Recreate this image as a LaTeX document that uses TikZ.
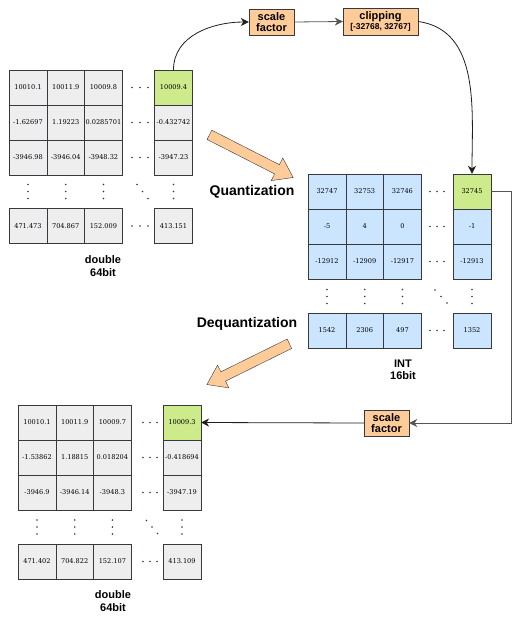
\documentclass[tikz,border=0pt]{standalone}
\usepackage{fontspec}
\setmainfont{DejaVu Serif}
\setsansfont{Liberation Sans}
\usetikzlibrary{positioning}
\usetikzlibrary{arrows.meta}
\usetikzlibrary{shapes.arrows}
\pgfdeclarelayer{nodelayer}
\pgfdeclarelayer{edgelayer}
\pgfsetlayers{nodelayer,edgelayer,main}
\definecolor{cellgrey}{HTML}{EEEEEE}
\definecolor{cellblue}{HTML}{CCE5FF}
\definecolor{cellgreen}{HTML}{CDEB8B}
\definecolor{boxorange}{HTML}{FFCC99}
\definecolor{cellline}{HTML}{36393D}
\definecolor{flowline}{HTML}{1F1F1F}
\definecolor{loopline}{HTML}{555555}
\tikzset{
    none/.style = {inner sep=0pt},
    cell/.style = {draw=cellline, fill=cellgrey, minimum width=37.7pt, minimum height=35pt,
        inner sep=0pt, font=\fontsize{6.6}{8}\selectfont},
    intcell/.style = {cell, fill=cellblue},
    hotcell/.style = {cell, fill=cellgreen},
    opbox/.style = {draw=cellline, fill=boxorange, inner sep=0pt, align=center,
        font=\sffamily\bfseries\fontsize{11}{11.5}\selectfont},
    typelabel/.style = {none, align=center, font=\sffamily\bfseries\fontsize{11}{12.5}\selectfont},
    steplabel/.style = {none, font=\sffamily\bfseries\fontsize{14}{16}\selectfont},
    bigarrow/.style = {single arrow, draw=cellline, fill=boxorange, inner sep=5pt,
        single arrow head extend=7.5pt, single arrow tip angle=70, single arrow head indent=0pt},
    flow/.style = {draw=flowline, line width=0.8pt, -{Stealth[length=8pt,width=8pt,inset=2.5pt]}}
}

\begin{document}
\begin{tikzpicture}[x=1pt, y=-1pt]
    \useasboundingbox (0,0) rectangle (516,618);

    \begin{pgfonlayer}{nodelayer}
        % input matrix, double
        \foreach \r/\y/\s/\va/\vb/\vc/\vd in {
            1/87.5/hotcell/10010.1/10011.9/10009.8/10009.4,
            2/122.5/cell/-1.62697/1.19223/0.0285701/-0.432742,
            3/157.5/cell/-3946.98/-3946.04/-3948.32/-3947.23,
            4/226/cell/471.473/704.867/152.009/413.151} {
            \node [cell] (a\r1) at (28,\y) {\va};
            \node [cell] (a\r2) at (65.7,\y) {\vb};
            \node [cell] (a\r3) at (103.4,\y) {\vc};
            \node [\s] (a\r4) at (173.5,\y) {\vd};
            \foreach \dx in {-8,0,8} \fill [cellline] (140+\dx,\y) circle (0.9pt);
        }
        \foreach \x in {28,65.7,103.4,173.5}
            \foreach \dy in {-7,0,7} \fill [cellline] (\x,191.5+\dy) circle (0.9pt);
        \foreach \d in {-1,0,1} \fill [cellline] (142.5+5.5*\d,191.5+7*\d) circle (0.9pt);
        \node [typelabel] (la) at (103,266) {double\\64bit};

        % quantized matrix, int
        \foreach \r/\y/\s/\va/\vb/\vc/\vd in {
            1/191.5/hotcell/32747/32753/32746/32745,
            2/226.5/intcell/-5/4/0/-1,
            3/261.5/intcell/-12912/-12909/-12917/-12913,
            4/330.5/intcell/1542/2306/497/1352} {
            \node [intcell] (b\r1) at (327,\y) {\va};
            \node [intcell] (b\r2) at (364.7,\y) {\vb};
            \node [intcell] (b\r3) at (402.4,\y) {\vc};
            \node [\s] (b\r4) at (472,\y) {\vd};
            \foreach \dx in {-7,0,7} \fill [cellline] (437+\dx,\y) circle (0.9pt);
        }
        \foreach \x in {327,364.7,402.4,472}
            \foreach \dy in {-7,0,7} \fill [cellline] (\x,296.5+\dy) circle (0.9pt);
        \foreach \d in {-1,0,1} \fill [cellline] (441+6*\d,296.5+6.5*\d) circle (0.9pt);
        \node [typelabel] (lb) at (403,370) {INT\\16bit};

        % restored matrix, double
        \foreach \r/\y/\s/\va/\vb/\vc/\vd in {
            1/422.5/hotcell/10010.1/10011.9/10009.7/10009.3,
            2/457.5/cell/-1.53862/1.18815/0.018204/-0.418694,
            3/492.5/cell/-3946.9/-3946.14/-3948.3/-3947.19,
            4/561.5/cell/471.402/704.822/152.107/413.109} {
            \node [cell] (c\r1) at (37,\y) {\va};
            \node [cell] (c\r2) at (74.7,\y) {\vb};
            \node [cell] (c\r3) at (112.4,\y) {\vc};
            \node [\s] (c\r4) at (182,\y) {\vd};
            \foreach \dx in {-7,0,7} \fill [cellline] (150+\dx,\y) circle (0.9pt);
        }
        \foreach \x in {37,74.7,112.4,182}
            \foreach \dy in {-7,0,7} \fill [cellline] (\x,527+\dy) circle (0.9pt);
        \foreach \d in {-1,0,1} \fill [cellline] (152+5.5*\d,527+6.5*\d) circle (0.9pt);
        \node [typelabel] (lc) at (113,601) {double\\64bit};

        % operations
        \node [opbox, minimum width=45pt, minimum height=26pt] (sfa) at (271.5,22) {scale\\factor};
        \node [opbox, minimum width=75pt, minimum height=27pt] (clip) at (380.5,21.5)
            {clipping\\[-1pt]{\fontsize{8.5}{9}\selectfont [-32768, 32767]}};
        \node [opbox, minimum width=45pt, minimum height=26pt] (sfb) at (386.5,423) {scale\\factor};

        \node [steplabel] (lq) at (252,192) {Quantization};
        \node [steplabel] (ld) at (247,324) {Dequantization};
        \node [bigarrow, minimum height=94pt, rotate=-27] (aq) at (248,154.5) {};
        \node [bigarrow, minimum height=92pt, rotate=206.3] (ad) at (251.5,362.5) {};

        \coordinate (bend) at (511,423);
    \end{pgfonlayer}

    \begin{pgfonlayer}{edgelayer}
        \draw [flow] (a14.north) to [out=90, in=180] (sfa.west);
        \draw [flow, draw=loopline] (sfa.east) to (clip.west);
        \draw [flow] (clip.east) to [out=-8, in=90] (b14.north);
        \draw [flow, draw=loopline, line width=1pt] (b14.east) -| (bend) to (sfb.east);
        \draw [flow] (sfb.west) to (c14.east);
    \end{pgfonlayer}
\end{tikzpicture}
\end{document}
